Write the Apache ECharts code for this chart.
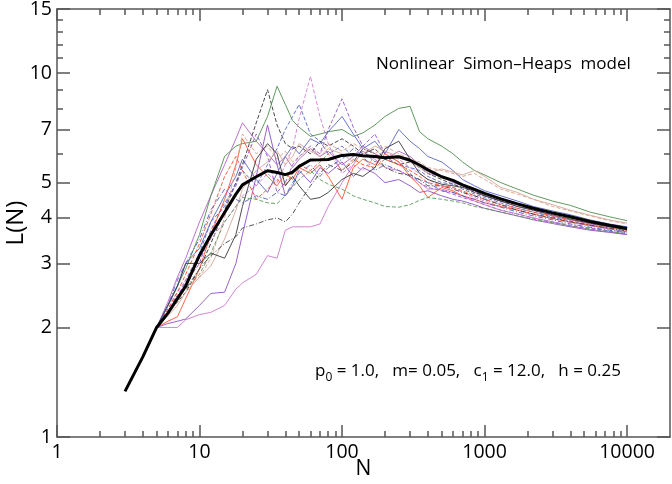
<!DOCTYPE html>
<html><head><meta charset="utf-8">
<script src="https://cdn.jsdelivr.net/npm/echarts@6/dist/echarts.min.js"></script>
<style>html,body{margin:0;padding:0;background:#fff}#c{width:672px;height:484px}</style>
</head><body><div id="c"></div><script>
// ---- tick labels / positions ----
const X_TICKS = [1, 10, 100, 1000, 10000];
const X_MINOR = [2,3,4,5,6,7,8,9,20,30,40,50,60,70,80,90,200,300,400,500,600,700,800,900,2000,3000,4000,5000,6000,7000,8000,9000];
const Y_TICKS = [1, 2, 3, 4, 5, 7, 10, 15];
const Y_MINOR = [6, 8, 9, 11, 12, 13, 14];

// ---- mean curve ----
const N_MEAN = [3,4,5,6,7,8,10,12,15,18,20,25,30,35,40,45,50,60,70,80,90,100,120,140,170,200,250,300,350,400,500,600,700,850,1000,1300,1700,2200,3000,4000,5500,7500,10000];
const L_MEAN = [1.335,1.66,2.0,2.19,2.4,2.6,3.16,3.59,4.14,4.65,4.93,5.19,5.39,5.33,5.26,5.34,5.54,5.77,5.78,5.79,5.87,5.94,5.97,5.93,5.9,5.85,5.89,5.76,5.59,5.42,5.19,5.07,4.93,4.79,4.67,4.51,4.37,4.25,4.13,4.03,3.91,3.82,3.74];

// ---- individual runs ----
const N_RUN = [5,6,7,8,10,12,15,18,20,25,30,35,40,45,50,60,70,80,100,120,140,170,200,250,300,350,400,500,600,700,850,1000,1300,1700,2200,3000,4000,5500,7500,10000];
const RUN_A = [2.0,2.35,2.75,3.1,3.9,4.6,5.6,6.6,7.3,6.5,6.0,5.6,5.9,5.5,5.8,6.2,5.9,6.1,5.6,5.9,6.3,6.0,5.8,6.1,5.9,5.6,5.3,5.2,5.0,4.9,4.7,4.6,4.45,4.3,4.2,4.05,3.95,3.85,3.78,3.7];
const RUN_B = [2.0,2.2,2.35,2.5,2.9,3.4,4.2,5.0,5.6,7.3,9.0,7.2,6.4,6.2,6.3,6.0,6.5,6.3,6.6,6.3,6.0,6.2,5.8,5.6,5.7,5.5,5.3,5.1,4.95,4.85,4.7,4.6,4.45,4.35,4.2,4.1,4.0,3.9,3.8,3.72];
const RUN_C = [2.0,2.3,2.6,2.9,3.6,4.6,5.9,6.3,6.4,6.5,7.6,9.2,8.2,7.4,7.1,6.7,6.8,6.9,7.0,6.7,6.85,7.2,7.6,8.0,8.1,6.9,6.6,6.3,6.0,5.7,5.4,5.25,5.0,4.8,4.62,4.45,4.33,4.15,4.03,3.93];
const RUN_D = [2.0,2.2,2.4,2.7,3.2,3.9,4.3,5.0,5.4,4.9,5.6,6.2,7.0,7.6,8.2,6.8,6.5,6.0,6.3,5.9,6.1,5.7,5.9,5.6,5.5,5.4,5.2,5.0,4.95,4.8,4.65,4.55,4.4,4.25,4.15,4.02,3.92,3.82,3.73,3.66];
const RUN_E = [2.0,2.3,2.5,2.7,3.1,3.5,3.9,4.3,4.6,4.9,5.3,5.0,5.6,6.2,7.5,9.8,7.6,6.4,5.3,5.6,5.4,5.9,6.1,5.8,5.5,5.3,5.1,4.9,4.85,4.7,4.55,4.45,4.3,4.2,4.08,3.98,3.88,3.8,3.72,3.65];
const RUN_F = [2.0,2.25,2.45,2.65,3.0,3.7,4.4,4.9,5.5,6.8,5.9,4.7,5.0,5.6,5.9,6.3,6.0,7.0,8.5,7.1,6.3,6.8,6.0,5.7,5.3,5.0,4.85,4.75,4.65,4.55,4.45,4.35,4.2,4.1,4.0,3.9,3.82,3.75,3.68,3.62];
const RUN_G = [2.0,2.3,2.6,3.0,3.3,3.9,4.6,5.2,5.8,5.1,4.7,5.3,5.9,6.3,6.0,6.6,6.4,6.9,7.6,6.8,6.2,6.5,6.0,7.0,6.5,6.2,5.9,5.7,5.4,5.1,4.9,4.75,4.6,4.45,4.3,4.18,4.08,3.95,3.85,3.78];
const RUN_H = [2.0,2.0,2.0,2.1,2.17,2.2,2.3,2.55,2.65,2.8,3.15,3.1,3.7,3.78,3.78,3.78,3.85,4.3,5.0,5.6,6.1,5.8,5.5,5.4,5.2,5.0,4.8,4.8,4.7,4.6,4.45,4.35,4.2,4.1,4.0,3.9,3.8,3.72,3.66,3.6];
const RUN_I = [2.0,2.05,2.08,2.11,2.3,2.48,2.5,3.0,3.6,5.2,7.2,5.6,4.6,4.9,5.4,5.0,5.5,5.3,5.7,5.2,5.5,5.3,5.0,5.1,4.9,4.7,4.75,4.6,4.5,4.45,4.35,4.25,4.15,4.05,3.95,3.86,3.78,3.7,3.65,3.6];
const RUN_J = [2.0,2.08,2.14,2.4,2.9,3.6,4.5,5.6,6.6,5.6,5.2,4.9,5.3,5.1,5.5,5.3,5.6,5.2,4.5,5.5,5.8,5.6,6.0,5.7,5.2,4.9,4.55,4.85,4.75,4.6,4.5,4.4,4.3,4.2,4.1,3.98,3.9,3.82,3.75,3.7];
const RUN_K = [2.0,2.25,2.5,2.8,3.4,4.1,5.2,5.9,5.4,4.5,4.8,5.1,4.9,5.3,5.6,5.4,5.7,6.0,5.4,5.8,5.6,5.5,5.8,5.6,5.4,5.2,5.0,4.9,4.85,4.75,4.6,4.5,4.35,4.25,4.15,4.05,3.95,3.87,3.8,3.75];
const RUN_L = [2.0,2.2,2.35,2.6,2.75,3.1,4.0,5.5,6.8,6.0,6.3,5.8,6.1,5.7,5.9,6.2,6.0,6.4,6.1,6.4,6.2,6.0,6.3,6.0,5.8,5.7,5.5,5.4,5.3,5.2,5.3,5.1,4.8,4.65,4.5,4.3,4.18,4.05,3.93,3.85];
const RUN_M = [2.0,2.15,2.3,2.5,2.75,2.95,3.5,4.2,4.8,5.4,5.7,6.1,5.6,5.9,6.4,6.1,5.9,6.2,6.0,5.7,6.0,6.3,6.1,5.9,5.7,5.5,5.3,5.45,5.35,5.25,5.4,5.2,4.85,4.7,4.5,4.35,4.2,4.07,3.95,3.87];
const RUN_N = [2.0,2.3,2.6,3.0,3.0,3.2,3.1,3.6,4.3,5.8,6.4,6.0,4.9,5.2,4.9,4.5,4.55,4.7,5.1,5.3,5.2,5.5,6.2,6.5,5.8,5.3,5.1,4.95,4.9,4.85,4.75,4.6,4.45,4.3,4.2,4.08,3.97,3.87,3.78,3.72];
const RUN_O = [2.0,2.2,2.4,2.55,2.8,3.2,3.9,4.3,4.55,4.5,4.4,4.38,4.6,4.86,5.1,5.4,5.1,4.95,4.8,4.6,4.5,4.4,4.3,4.28,4.35,4.47,4.55,4.5,4.45,4.4,4.3,4.25,4.15,4.05,3.97,3.88,3.8,3.73,3.67,3.62];
const RUN_P = [2.0,2.3,2.7,3.0,3.5,4.2,4.8,4.5,4.4,4.6,4.5,4.7,4.6,5.0,5.3,5.6,5.2,5.5,5.8,6.2,5.9,5.4,5.6,5.4,5.2,5.1,5.0,4.75,4.7,4.6,4.5,4.4,4.28,4.15,4.05,3.95,3.85,3.77,3.7,3.64];
const RUN_Q = [2.0,2.2,2.45,2.55,2.9,3.15,3.4,3.55,3.75,3.85,3.95,4.0,3.9,4.1,4.4,4.9,5.3,5.6,5.4,5.7,6.2,6.0,5.5,5.3,5.25,5.1,4.9,4.9,4.8,4.7,4.6,4.5,4.35,4.2,4.1,4.0,3.9,3.82,3.75,3.68];

const chart = echarts.init(document.getElementById('c'), null, {renderer: 'canvas'});
const FONT = 'Open Sans';
const FRAME = '#555';
const LX_MAX = Math.log10(20000);
const LY_MAX = Math.log10(15);
const lg = v => Math.log10(v);

const DASH = [4, 2], DASHDOT = [5, 2, 1, 2];
const runDefs = [
  [RUN_A, '#b264c4', 'solid'],
  [RUN_B, '#333333', DASH],
  [RUN_C, '#4f8f4f', 'solid'],
  [RUN_D, '#5566c4', DASH],
  [RUN_E, '#d27ed2', DASH],
  [RUN_F, '#9055c8', DASH],
  [RUN_G, '#5a66c0', 'solid'],
  [RUN_H, '#cc7acc', 'solid'],
  [RUN_I, '#8c52c0', 'solid'],
  [RUN_J, '#ff5533', 'solid'],
  [RUN_K, '#ff4d2e', DASH],
  [RUN_L, '#d9a090', DASH],
  [RUN_M, '#d4a898', 'solid'],
  [RUN_N, '#3a3a3a', 'solid'],
  [RUN_O, '#5a9a5a', DASH],
  [RUN_P, '#5060c0', DASHDOT],
  [RUN_Q, '#444444', DASHDOT]
];

const series = runDefs.map(([vals, color, type]) => ({
  type: 'line', xAxisIndex: 0, yAxisIndex: 0,
  data: N_RUN.map((n, i) => [n, vals[i]]),
  symbol: 'none', silent: true, z: 2,
  lineStyle: {color: color, width: 1, type: type, opacity: 0.9}
}));
series.push({
  type: 'line', xAxisIndex: 0, yAxisIndex: 0,
  data: N_MEAN.map((n, i) => [n, L_MEAN[i]]),
  symbol: 'none', silent: true, z: 5,
  lineStyle: {color: '#000', width: 3}
});

function helper(pos, max, ticks, len, line, labels, extra) {
  const o = {
    type: 'value', position: pos, min: 0, max: max,
    axisLine: {show: line, onZero: false, lineStyle: {color: FRAME, width: 1.5}},
    axisTick: {show: true, inside: true, length: len, customValues: ticks.map(lg),
               lineStyle: {color: FRAME, width: 1.5}},
    axisLabel: labels ? {show: true, customValues: ticks.map(lg),
               formatter: v => String(Math.round(Math.pow(10, v))),
               fontFamily: FONT, fontSize: 19.5, color: '#000', margin: 5} : {show: false},
    splitLine: {show: false}, minorTick: {show: false}
  };
  return Object.assign(o, extra || {});
}

chart.setOption({
  animation: false,
  backgroundColor: '#fff',
  grid: {left: 57, right: 2, top: 9, bottom: 47, outerBoundsMode: 'none'},
  xAxis: [
    {type: 'log', logBase: 10, min: 1, max: 20000, show: false, axisLine: {onZero: false}},
    helper('bottom', LX_MAX, X_TICKS, 12, true, true, {
      name: 'N', nameLocation: 'middle', nameGap: 22, nameMoveOverlap: false,
      nameTextStyle: {fontFamily: FONT, fontSize: 21, color: '#000'}}),
    helper('bottom', LX_MAX, X_MINOR, 6, false, false),
    helper('top', LX_MAX, X_TICKS, 12, true, false),
    helper('top', LX_MAX, X_MINOR, 6, false, false)
  ],
  yAxis: [
    {type: 'log', logBase: 10, min: 1, max: 15, show: false, axisLine: {onZero: false}},
    helper('left', LY_MAX, Y_TICKS, 13, true, true, {
      name: 'L(N)', nameLocation: 'middle', nameGap: 29, nameMoveOverlap: false,
      nameTextStyle: {fontFamily: FONT, fontSize: 24, color: '#000'}}),
    helper('left', LY_MAX, Y_MINOR, 6, false, false),
    helper('right', LY_MAX, Y_TICKS, 13, true, false),
    helper('right', LY_MAX, Y_MINOR, 6, false, false)
  ],
  graphic: [
    {type: 'text', x: 376, y: 64, silent: true,
     style: {text: 'Nonlinear  Simon\u2013Heaps  model', fontFamily: FONT, fontSize: 17,
             fill: '#000', align: 'left', verticalAlign: 'middle'}},
    {type: 'text', x: 315, y: 371, silent: true,
     style: {text: '{m|p}{s|0}{m| = 1.0,   m= 0.05,   c}{s|1}{m| = 12.0,   h = 0.25}',
             align: 'left', verticalAlign: 'middle',
             rich: {
               m: {fontFamily: FONT, fontSize: 17, fill: '#000', lineHeight: 25},
               s: {fontFamily: FONT, fontSize: 12, fill: '#000', lineHeight: 12, verticalAlign: 'bottom'}
             }}}
  ],
  series: series
});
</script></body></html>
